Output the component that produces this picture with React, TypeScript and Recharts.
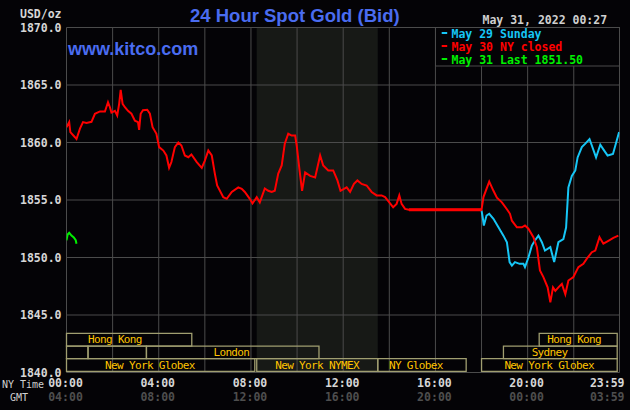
import React from "react";
import { LineChart, Line, XAxis, YAxis, CartesianGrid, ReferenceArea } from "recharts";

// ---------- DATA ----------
// minutes since 00:00 New York time
const may30Times = [0,7,10,22,26,35,43,52,65,74,87,100,108,113,117,126,132,137,141,146,152,160,169,178,186,189,193,199,210,217,224,234,241,252,260,267,273,282,291,299,308,317,325,339,352,360,369,378,386,392,408,417,430,447,456,464,477,484,495,503,516,525,534,542,551,560,568,577,586,595,599,606,613,621,634,647,660,668,681,694,705,713,729,738,748,757,768,781,794,807,820,829,840,850,859,866,872,881,891,1080,1085,1100,1111,1120,1133,1146,1154,1159,1172,1185,1193,1202,1215,1224,1232,1241,1252,1259,1266,1272,1280,1289,1298,1306,1319,1332,1345,1354,1367,1376,1387,1397,1410,1423,1436];
const may30Prices = [1861.33,1861.77,1860.9,1860.46,1860.3,1861.2,1861.77,1861.7,1861.8,1862.5,1862.7,1862.7,1863.5,1863.07,1862.6,1862.75,1862.35,1863.36,1864.58,1863.36,1863.07,1862.75,1862.5,1861.9,1861.77,1861.1,1862.5,1862.8,1862.85,1862.5,1861.33,1860.75,1859.6,1859.3,1858.87,1857.8,1858.3,1859.6,1860.0,1859.74,1858.87,1858.72,1858.96,1858.3,1857.8,1858.43,1859.3,1858.87,1857.3,1856.26,1855.25,1855.1,1855.7,1856.1,1855.97,1855.7,1855.1,1854.7,1855.25,1854.8,1856.0,1855.8,1855.7,1855.8,1857.3,1858.0,1859.9,1860.76,1860.6,1860.6,1859.74,1857.7,1855.8,1857.4,1857.1,1856.96,1858.87,1858.0,1857.57,1857.57,1856.7,1855.8,1856.1,1855.7,1856.4,1856.7,1856.4,1856.26,1855.7,1855.4,1855.4,1855.25,1854.8,1854.37,1854.66,1855.4,1854.66,1854.23,1854.15,1854.15,1855.25,1856.6,1855.8,1855.2,1854.8,1854.2,1853.8,1853.2,1852.63,1852.63,1852.78,1852.5,1851.76,1850.9,1848.87,1848.3,1847.4,1846.1,1847.4,1847.1,1847.4,1847.7,1846.8,1848.0,1848.3,1849.16,1849.45,1849.9,1850.46,1850.6,1851.76,1851.2,1851.45,1851.7,1851.9];

const may29Times = [1080,1083,1086,1093,1100,1111,1124,1137,1146,1153,1159,1167,1179,1189,1193,1202,1211,1219,1228,1237,1245,1259,1269,1280,1293,1300,1306,1315,1324,1330,1341,1350,1361,1367,1378,1389,1397,1408,1422,1432,1438];
const may29Prices = [1854.1,1853.5,1852.78,1853.65,1853.8,1853.36,1852.63,1851.9,1851.33,1849.6,1849.3,1849.6,1849.45,1849.45,1849.16,1850.0,1851.04,1851.48,1851.9,1851.33,1850.6,1850.9,1849.6,1851.33,1851.6,1852.6,1856.1,1857.1,1857.57,1858.7,1859.6,1859.9,1860.3,1859.74,1858.7,1859.8,1859.4,1858.87,1859.0,1860.2,1860.9];

const may31Times = [0,3,7,13,19,24,26];
const may31Prices = [1851.5,1852.0,1852.15,1851.9,1851.75,1851.5,1851.2];

const seriesNames = ["May 29 Sunday", "May 30 NY closed", "May 31 Last 1851.50"];
const seriesColors = ["#16c6f6", "#ff0000", "#00f000"];

const yTicks = [1840, 1845, 1850, 1855, 1860, 1865, 1870];
const gridTicks = [0,120,240,360,480,600,720,840,960,1080,1200,1320,1439];
const labelTicks = [0,240,480,720,960,1200,1439];
const nyLabels = ["00:00","04:00","08:00","12:00","16:00","20:00","23:59"];
const gmtLabels = ["04:00","08:00","12:00","16:00","20:00","00:00","03:59"];

// NYMEX open-outcry shading
const nymexStart = 495;
const nymexEnd = 810;

// trading sessions
const sessionNames = ["Hong Kong","Hong Kong","","","London","Sydney","New York Globex","New York NYMEX","NY Globex","New York Globex"];
const sessionStart = [0,1230,0,56,208,1137,0,495,810,1080];
const sessionEnd = [326,1433,56,208,657,1433,490,810,1040,1433];
const sessionRow = [0,0,1,1,1,1,2,2,2,2];
const sessionLabelAt = [126,1321,0,0,429,1257,217,652,909,1256];

// ---------- BUILD ----------
const toRows = (t: number[], v: number[]) => t.map((m, i) => ({ t: m, price: v[i] }));
const may29 = toRows(may29Times, may29Prices);
const may30 = toRows(may30Times, may30Prices);
const may30Flat = may30.filter((d) => d.t >= 891 && d.t <= 1080);
const may31 = toRows(may31Times, may31Prices);

const MONO = "'DejaVu Sans Mono', monospace";
const SANS = "'Liberation Sans', Arial, sans-serif";
const BG = "#040306";
const GRID = "#4b4b4b";
const BOX = "#a09e70";
const BOX_TEXT = "#ffc400";

const ROW_H = 1.1;
const rowBottom = (r: number) => 1840.1 + (2 - r) * ROW_H;

const TimeTick = (props: any) => {
  const { x, y, payload } = props;
  const i = labelTicks.indexOf(payload.value);
  if (i < 0) return <g />;
  const last = i === labelTicks.length - 1;
  const tx = last ? x + 5 : x - 1;
  const anchor = last ? "end" : "middle";
  return (
    <g>
      <text x={tx} y={y + 14.5} textAnchor={anchor} fontFamily={MONO} fontWeight="bold" fontSize={11.5} fill="#d6d6d6">
        {nyLabels[i]}
      </text>
      <text x={tx} y={y + 28.5} textAnchor={anchor} fontFamily={MONO} fontWeight="bold" fontSize={11.5} fill="#4e4e4e">
        {gmtLabels[i]}
      </text>
    </g>
  );
};

const makeSessionLabel = (idx: number) => (p: any) => {
  const vb = p.viewBox || p;
  if (!sessionNames[idx]) return <g />;
  const frac = (sessionLabelAt[idx] - sessionStart[idx]) / (sessionEnd[idx] - sessionStart[idx]);
  const x = vb.x + frac * vb.width;
  const y = vb.y + vb.height - 2.6;
  return (
    <text x={x} y={y} textAnchor="middle" fontFamily={MONO} fontSize={11} letterSpacing={-0.65} fill={BOX_TEXT}>
      {sessionNames[idx]}
    </text>
  );
};

export default function App() {
  return (
    <div style={{ position: "relative", width: 630, height: 410, background: BG, overflow: "hidden" }}>
      <style>{`body{margin:0;background:${BG};}`}</style>
      <LineChart
        width={630}
        height={410}
        margin={{ top: 27.5, right: 10.5, bottom: 0, left: 0 }}
      >
        <ReferenceArea
          x1={nymexStart}
          x2={nymexEnd}
          y1={1840}
          y2={1870}
          fill="#171916"
          fillOpacity={1}
          stroke="none"
          zIndex={-200}
          ifOverflow="extendDomain"
        />
        <CartesianGrid stroke={GRID} strokeWidth={1} />
        <XAxis
          type="number"
          dataKey="t"
          domain={[0, 1439]}
          ticks={gridTicks}
          interval={0}
          allowDataOverflow
          axisLine={false}
          tickLine={false}
          tickSize={0}
          tickMargin={0}
          height={37.5}
          tick={<TimeTick />}
        />
        <YAxis
          type="number"
          dataKey="price"
          domain={[1840, 1870]}
          ticks={yTicks}
          interval={0}
          allowDataOverflow
          axisLine={false}
          tickLine={false}
          tickSize={0}
          tickMargin={5}
          width={66.5}
          tickFormatter={(v: number) => v.toFixed(1)}
          tick={{ fill: "#d6d6d6", fontSize: 11.5, fontFamily: MONO, fontWeight: "bold" }}
        />
        {sessionNames.map((n, i) => (
          <ReferenceArea
            key={"s" + i}
            x1={sessionStart[i]}
            x2={sessionEnd[i]}
            y1={rowBottom(sessionRow[i])}
            y2={rowBottom(sessionRow[i]) + ROW_H}
            fill="none"
            fillOpacity={0}
            stroke={BOX}
            strokeWidth={1.3}
            ifOverflow="visible"
            label={makeSessionLabel(i)}
          />
        ))}
        <Line data={may29} dataKey="price" name={seriesNames[0]} stroke={seriesColors[0]} strokeWidth={2} dot={false} isAnimationActive={false} type="linear" />
        <Line data={may30} dataKey="price" name={seriesNames[1]} stroke={seriesColors[1]} strokeWidth={2} dot={false} isAnimationActive={false} type="linear" />
        <Line data={may30Flat} dataKey="price" name={seriesNames[1] + " flat"} stroke={seriesColors[1]} strokeWidth={3} dot={false} isAnimationActive={false} type="linear" legendType="none" />
        <Line data={may31} dataKey="price" name={seriesNames[2]} stroke={seriesColors[2]} strokeWidth={2} dot={false} isAnimationActive={false} type="linear" />
      </LineChart>
      <svg width={630} height={410} style={{ position: "absolute", left: 0, top: 0, pointerEvents: "none" }}>
        <text x={190} y={22} fontFamily={SANS} fontWeight="bold" fontSize={18.5} fill="#4a6cf0">24 Hour Spot Gold (Bid)</text>
        <text x={68} y={55} fontFamily={SANS} fontWeight="bold" fontSize={18} fill="#4a6cf0">www.kitco.com</text>
        <text x={482.5} y={24} fontFamily={MONO} fontWeight="bold" fontSize={11.5} fill="#d0d0d0">May 31, 2022 00:27</text>
        <text x={61.5} y={17.5} textAnchor="end" fontFamily={MONO} fontWeight="bold" fontSize={11.5} fill="#d6d6d6">USD/oz</text>
        <text x={2} y={388} fontFamily={MONO} fontSize={10} fill="#d0d0d0">NY Time</text>
        <text x={10} y={400.5} fontFamily={MONO} fontSize={10} fill="#d0d0d0">GMT</text>
        <rect x={435.5} y={27.5} width={184} height={38.5} fill={BG} stroke={GRID} strokeWidth={1} />
        {seriesNames.map((n, i) => (
          <g key={n}>
            <rect x={441.7} y={32 + i * 13} width={5.5} height={2} fill={seriesColors[i]} />
            <text x={451.5} y={37.8 + i * 13} fontFamily={MONO} fontWeight="bold" fontSize={11.5} fill={seriesColors[i]}>{n}</text>
          </g>
        ))}
      </svg>
    </div>
  );
}
